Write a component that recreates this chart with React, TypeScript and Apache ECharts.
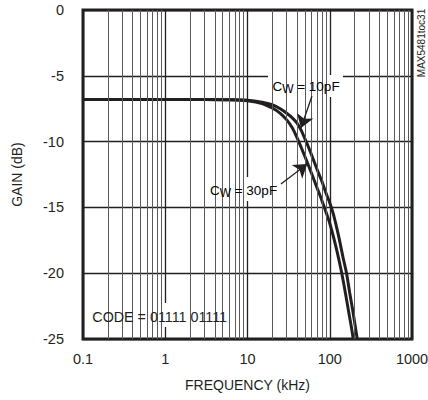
import React, { useEffect, useRef } from 'react';
import * as echarts from 'echarts';

const FONT = '"Liberation Sans", Arial, sans-serif';
const INK = '#231f20';

const freqTicks = [0.1, 1, 10, 100, 1000];
const gainTicks = [0, -5, -10, -15, -20, -25];
const minorFreqs = [
  0.2, 0.3, 0.4, 0.5, 0.6, 0.7, 0.8, 0.9,
  2, 3, 4, 5, 6, 7, 8, 9,
  20, 30, 40, 50, 60, 70, 80, 90,
  200, 300, 400, 500, 600, 700, 800, 900,
];

const cw10Freq = [0.1, 1, 3, 6, 10, 15, 20, 25, 30, 35, 40, 45, 50, 55, 60, 70, 80, 90, 100, 110, 120, 130, 145, 160, 175, 190, 205, 216];
const cw10Gain = [-6.8, -6.8, -6.8, -6.82, -6.85, -7.0, -7.2, -7.5, -7.85, -8.2, -8.6, -9.15, -9.8, -10.4, -11.0, -12.1, -13.0, -13.9, -14.65, -15.45, -16.4, -17.35, -18.8, -20.0, -21.5, -22.8, -24.1, -25.0];

const cw30Freq = [0.1, 1, 3, 6, 10, 15, 20, 25, 30, 35, 40, 45, 50, 55, 60, 70, 80, 90, 100, 110, 120, 130, 140, 155, 170, 185, 193];
const cw30Gain = [-6.8, -6.8, -6.8, -6.82, -6.9, -7.1, -7.45, -7.85, -8.35, -8.95, -9.7, -10.45, -11.15, -11.8, -12.4, -13.5, -14.45, -15.35, -16.2, -17.15, -18.1, -19.05, -20.0, -21.5, -22.95, -24.25, -25.0];

// arrow annotations: [fromFreq, fromGain, toFreq, toGain]
const arrow10 = [60.8, -6.53, 44.7, -8.97];
const arrow30 = [25.5, -13.22, 53.3, -11.7];

const zip = (xs: number[], ys: number[]) => xs.map((x, i) => [x, ys[i]]);

export default function App() {
  const ref = useRef<HTMLDivElement>(null);
  useEffect(() => {
    if (!ref.current) return;
    const chart = echarts.init(ref.current, undefined, { renderer: 'svg' });
    const cwRich = {
      c: { fontSize: 13.5, lineHeight: 18, fontFamily: FONT, color: INK, verticalAlign: 'middle' },
      w: { fontSize: 12, lineHeight: 13, fontFamily: FONT, color: INK, verticalAlign: 'bottom' },
      t: { fontSize: 13.5, lineHeight: 18, fontFamily: FONT, color: INK, verticalAlign: 'middle' },
    };
    chart.setOption({
      animation: false,
      grid: {
        left: 83, top: 10, width: 329, height: 329,
        show: true, borderColor: INK, borderWidth: 3, backgroundColor: 'transparent',
        outerBoundsMode: 'none',
      },
      xAxis: {
        type: 'log', logBase: 10, min: freqTicks[0], max: freqTicks[freqTicks.length - 1],
        axisLine: { show: false }, axisTick: { show: false },
        splitLine: { show: true, lineStyle: { color: INK, width: 1.3 } },
        axisLabel: {
          margin: 12, color: INK, fontSize: 14.5, fontFamily: FONT,
          formatter: (v: number) => String(Number(v.toPrecision(6))),
        },
        name: 'FREQUENCY (kHz)', nameLocation: 'middle', nameGap: 39,
        nameTextStyle: { color: INK, fontSize: 14, fontFamily: FONT },
      },
      yAxis: {
        type: 'value', min: gainTicks[gainTicks.length - 1], max: gainTicks[0], interval: 5,
        axisLine: { show: false }, axisTick: { show: false },
        splitLine: { show: true, lineStyle: { color: INK, width: 1.3 } },
        axisLabel: { margin: 19, color: INK, fontSize: 14.5, fontFamily: FONT },
        name: 'GAIN (dB)', nameLocation: 'middle', nameGap: 59, nameRotate: 90,
        nameTextStyle: { color: INK, fontSize: 14, fontFamily: FONT },
      },
      series: [
        {
          type: 'line', data: [], z: 1, silent: true,
          markLine: {
            silent: true, symbol: ['none', 'none'], label: { show: false },
            lineStyle: { color: '#5a5a5a', width: 1, type: 'solid' },
            emphasis: { disabled: true },
            data: minorFreqs.map((f) => ({ xAxis: f })),
          },
        },
        {
          name: 'CW = 10pF', type: 'line', data: zip(cw10Freq, cw10Gain), z: 3,
          symbol: 'none', smooth: 0.3, lineStyle: { color: INK, width: 3 }, silent: true,
        },
        {
          name: 'CW = 30pF', type: 'line', data: zip(cw30Freq, cw30Gain), z: 3,
          symbol: 'none', smooth: 0.3, lineStyle: { color: INK, width: 3 }, silent: true,
        },
        {
          type: 'line', data: [], z: 6, silent: true,
          markLine: {
            silent: true, symbol: ['none', 'arrow'], symbolSize: 13, label: { show: false },
            lineStyle: { color: INK, width: 1.3, type: 'solid' },
            itemStyle: { color: INK },
            emphasis: { disabled: true },
            data: [
              [{ coord: [arrow10[0], arrow10[1]] }, { coord: [arrow10[2], arrow10[3]] }],
              [{ coord: [arrow30[0], arrow30[1]] }, { coord: [arrow30[2], arrow30[3]] }],
            ],
          },
        },
      ],
      graphic: [
        { type: 'rect', z: 5, shape: { x: 268, y: 75, width: 75, height: 22 }, style: { fill: '#fff' } },
        {
          type: 'text', z: 7, x: 306, y: 86,
          style: { text: '{c|C}{w|W}{t| = 10pF}', rich: cwRich, align: 'center', verticalAlign: 'middle' },
        },
        { type: 'rect', z: 5, shape: { x: 188, y: 177, width: 95, height: 24 }, style: { fill: '#fff' } },
        {
          type: 'text', z: 7, x: 243.5, y: 190,
          style: { text: '{c|C}{w|W}{t| = 30pF}', rich: cwRich, align: 'center', verticalAlign: 'middle' },
        },
        { type: 'rect', z: 5, shape: { x: 85, y: 303, width: 148, height: 24 }, style: { fill: '#fff' } },
        {
          type: 'text', z: 7, x: 159.7, y: 316.7,
          style: { text: 'CODE = 01111 01111', fill: INK, fontSize: 14.3, fontFamily: FONT, align: 'center', verticalAlign: 'middle' },
        },
        {
          type: 'text', z: 7, x: 421, y: 43, rotation: Math.PI / 2,
          style: { text: 'MAX5481toc31', fill: INK, fontSize: 10, fontFamily: FONT, align: 'center', verticalAlign: 'middle' },
        },
      ],
    });
    return () => chart.dispose();
  }, []);
  return <div ref={ref} style={{ position: 'fixed', left: 0, top: 0, width: 428, height: 400, background: '#fff' }} />;
}
